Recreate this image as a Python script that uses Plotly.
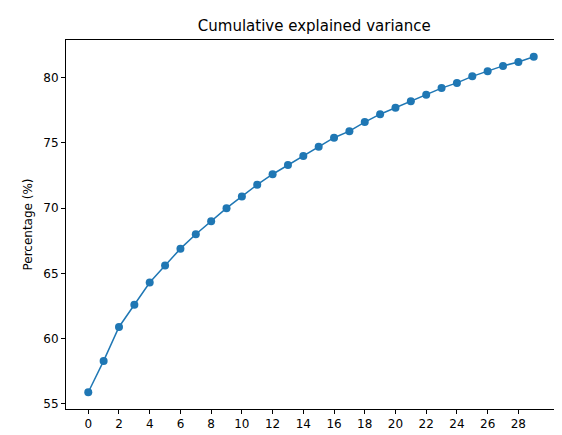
import plotly.graph_objects as go

components = list(range(30))
cum_var = [55.9, 58.3, 60.9, 62.6, 64.3, 65.6, 66.9, 68.0, 69.0, 70.0,
           70.9, 71.8, 72.6, 73.3, 74.0, 74.7, 75.4, 75.9, 76.6, 77.2,
           77.7, 78.2, 78.7, 79.2, 79.6, 80.1, 80.5, 80.9, 81.2, 81.6]

fig = go.Figure(go.Scatter(
    x=components, y=cum_var, mode='lines+markers',
    line=dict(color='#1f77b4', width=1.5),
    marker=dict(color='#1f77b4', size=8),
))

pad_x = 0.05 * (max(components) - min(components))
pad_y = 0.05 * (max(cum_var) - min(cum_var))
axis = dict(showline=True, mirror=True, linecolor='black', linewidth=1,
            ticks='outside', ticklen=4, tickcolor='black', showgrid=False,
            zeroline=False, automargin=False, tickfont=dict(size=12, color='black'))
fig.update_xaxes(range=[min(components) - pad_x, max(components) + pad_x],
                 tickvals=list(range(0, 29, 2)), **axis)
fig.update_yaxes(range=[min(cum_var) - pad_y, max(cum_var) + pad_y],
                 tickvals=[55, 60, 65, 70, 75, 80],
                 title=dict(text='Percentage (%)', standoff=8,
                            font=dict(size=12, color='black')), **axis)
fig.update_layout(
    width=562, height=435,
    margin=dict(l=58, r=14, t=32, b=34, autoexpand=False),
    plot_bgcolor='white', paper_bgcolor='white',
    font=dict(family='DejaVu Sans', color='black'),
    title=dict(text='Cumulative explained variance', x=0.545, xanchor='center',
               y=0.96, yanchor='middle', font=dict(size=15, color='black')),
    showlegend=False,
)
fig.write_html("out.html")
